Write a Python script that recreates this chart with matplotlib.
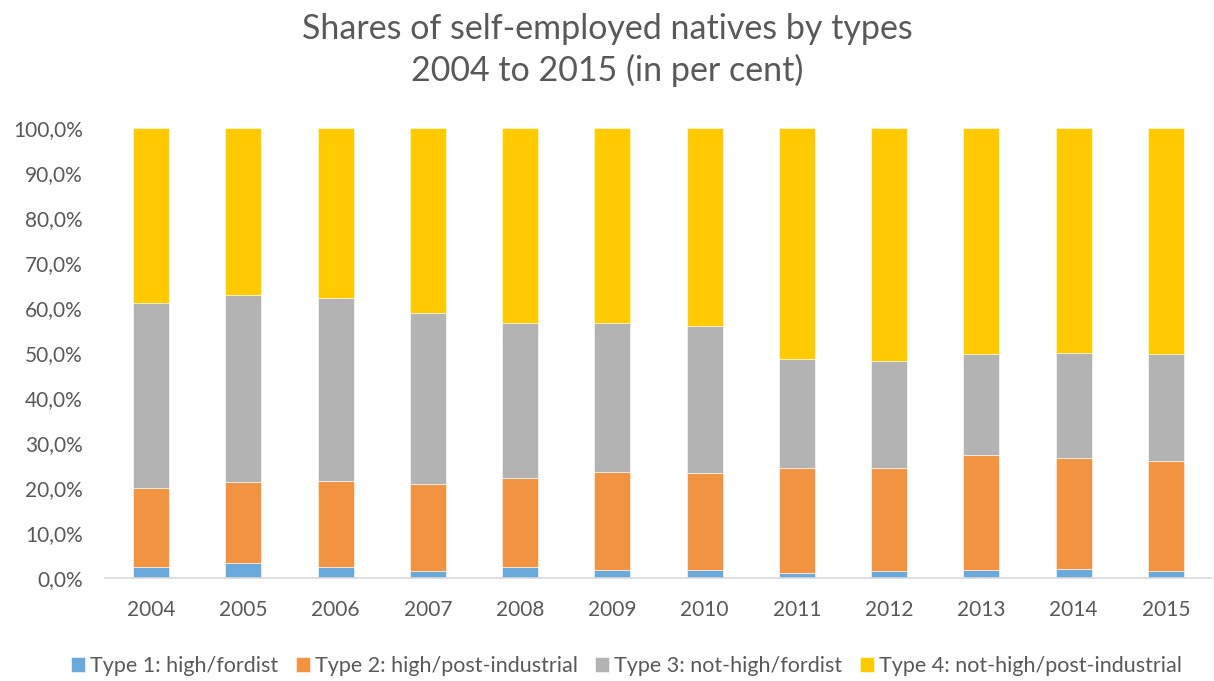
import numpy as np
import matplotlib
matplotlib.use("Agg")
import matplotlib.pyplot as plt

# data (per cent)
years = ["2004", "2005", "2006", "2007", "2008", "2009", "2010", "2011", "2012", "2013", "2014", "2015"]
type1 = [2.5, 3.3, 2.4, 1.5, 2.4, 1.75, 1.75, 1.1, 1.5, 1.75, 2.1, 1.5]
type2 = [17.5, 18.0, 19.2, 19.4, 19.8, 21.85, 21.55, 23.3, 22.9, 25.55, 24.6, 24.5]
type3 = [41.1, 41.6, 40.6, 38.0, 34.5, 33.1, 32.7, 24.3, 23.8, 22.5, 23.3, 23.8]
type4 = [38.9, 37.1, 37.8, 41.1, 43.3, 43.3, 44.0, 51.3, 51.8, 50.2, 50.0, 50.2]
labels = ["Type 1: high/fordist", "Type 2: high/post-industrial",
          "Type 3: not-high/fordist", "Type 4: not-high/post-industrial"]
colors = ["#6AA9DC", "#F29341", "#B3B3B3", "#FFCA00"]

plt.rcParams['font.family'] = ['Lato', 'DejaVu Sans']
text_col = "#595959"

fig = plt.figure(figsize=(12.14, 6.81), dpi=100)
ax = fig.add_axes([105 / 1214, 103 / 681, (1212 - 105) / 1214, 450 / 681])

x = np.arange(len(years))
bottom = np.zeros(len(years))
for vals, lab, col in zip([type1, type2, type3, type4], labels, colors):
    ax.bar(x, vals, width=0.39, bottom=bottom, color=col, label=lab,
           edgecolor="white", linewidth=0.4)
    bottom += np.array(vals)

ax.set_xlim(-0.5, len(years) - 0.5)
ax.set_ylim(0, 100)
ax.set_yticks(np.arange(0, 101, 10))
ax.set_yticklabels([f"{v:.1f}%".replace(".", ",") for v in np.arange(0, 101, 10)])
ax.set_xticks(x)
ax.set_xticklabels(years)
ax.tick_params(axis="both", length=0, labelsize=15, colors=text_col)
ax.tick_params(axis="y", pad=16)
ax.tick_params(axis="x", pad=16)

for side in ["top", "right", "left"]:
    ax.spines[side].set_visible(False)
ax.spines["bottom"].set_color("#D9D9D9")
ax.spines["bottom"].set_linewidth(1.2)

fig.text(0.5, 0.958, "Shares of self-employed natives by types", ha="center", va="center",
         fontsize=24.5, color=text_col)
fig.text(0.5, 0.897, "2004 to 2015 (in per cent)", ha="center", va="center",
         fontsize=24.5, color=text_col)

fig.legend(loc="center", bbox_to_anchor=(0.516, 0.022), ncol=4, frameon=False,
           fontsize=15.5, labelcolor=text_col, handlelength=0.65, handleheight=0.65,
           handletextpad=0.25, columnspacing=0.8)

fig.savefig("out.png", dpi=100)
